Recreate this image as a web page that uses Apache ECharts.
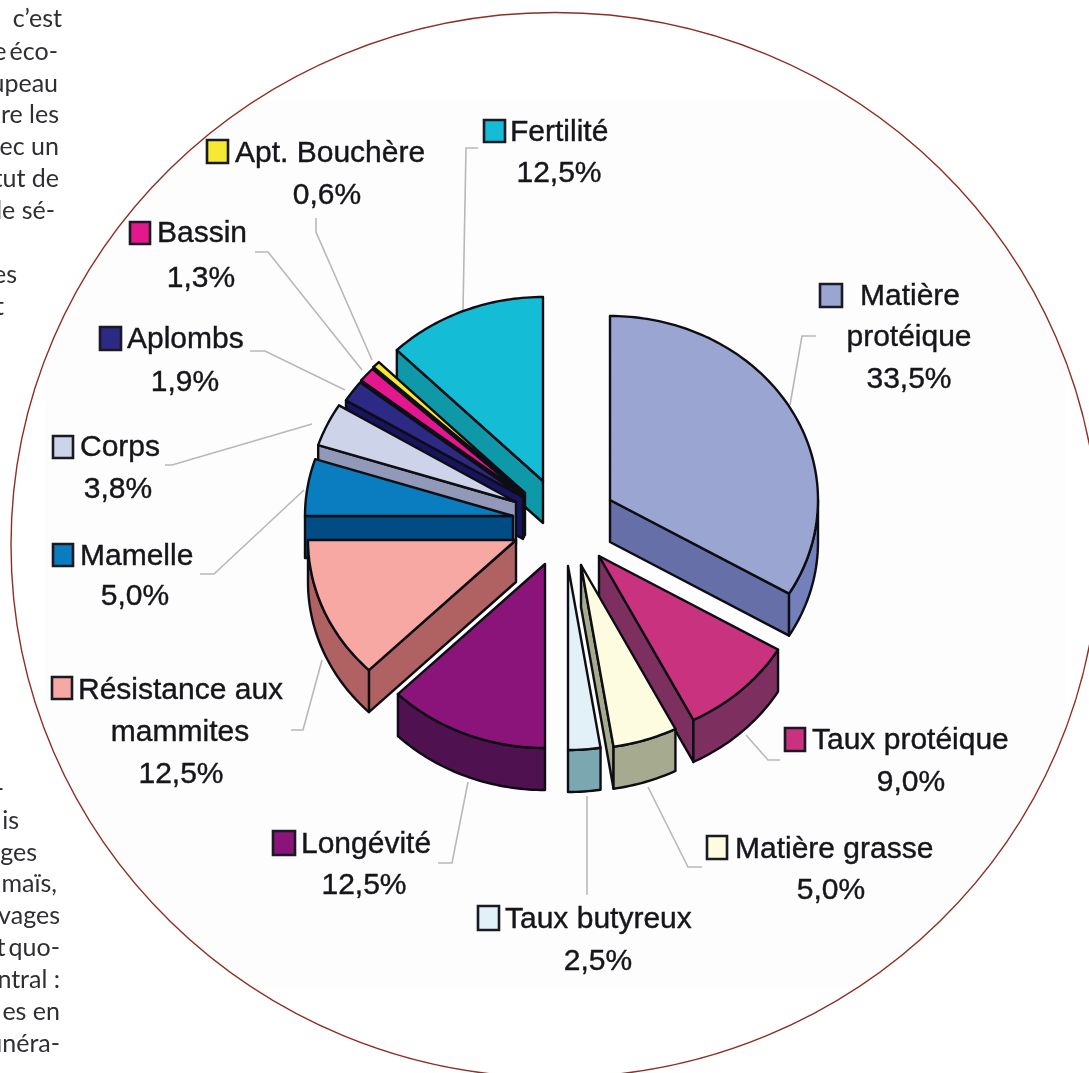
<!DOCTYPE html>
<html>
<head>
<meta charset="utf-8">
<style>
  html, body { margin: 0; padding: 0; background: #fff; }
  #main { width: 1089px; height: 1073px; }
</style>
<script src="https://cdn.jsdelivr.net/npm/echarts@6/dist/echarts.min.js"></script>
</head>
<body>
<div id="main"></div>
<script>
// data, clockwise from 12 o'clock
const categories = ['Matière\nprotéique', 'Taux protéique', 'Matière grasse', 'Taux butyreux', 'Longévité',
  'Résistance aux\nmammites', 'Mamelle', 'Corps', 'Aplombs', 'Bassin', 'Apt. Bouchère', 'Fertilité'];
const shares = [33.5, 9.0, 5.0, 2.5, 12.5, 12.5, 5.0, 3.8, 1.9, 1.3, 0.6, 12.5];

// colours
const topColors = ['#9aa5d2', '#c9327f', '#fdfce0', '#e2f0f8', '#8a1479', '#f7a8a3', '#0a7cc0', '#cdd3e8', '#2c2a85', '#e5178f', '#f7e931', '#14bcd6'];
const sideColors = ['#666fa8', '#7d3060', '#a6ab8f', '#7ba7b0', '#4f1150', '#b06262', '#004c85', '#9299b8', '#181560', '#7f2f73', '#86803c', '#0e98a8'];
const arcColors = ['#7480bb', '#7d3060', '#a6ab8f', '#7ba7b0', '#4f1150', '#b06262', '#004c85', '#9299b8', '#181560', '#7f2f73', '#86803c', '#0e98a8'];

// layout: each slice is pulled out by hand in the original
const sliceApex = [[610, 500], [599, 556], [581, 565], [568, 566], [545, 564], [516, 540], [513, 516], [516, 502], [523, 497], [524, 495], [525, 493], [543, 481]];
const drawOrder = [11, 10, 9, 8, 7, 6, 5, 4, 0, 1, 2, 3];
const rx = 208, ry = 184, depth = 42;

const swatches = [[820, 284, 22, 23], [785, 728, 20, 23], [707, 836, 20, 23], [478, 906, 21, 24], [273, 831, 22, 24], [52, 677, 20, 22],
  [53, 544, 20, 22], [53, 436, 20, 22], [100, 327, 21, 23], [130, 222, 20, 22], [207, 140, 21, 23], [484, 120, 21, 22]];
const labelLines = [
  [[860, 297, 'left'], [909, 338, 'center'], [909, 380, 'center']],
  [[812, 741, 'left'], [911, 783, 'center']],
  [[735, 850, 'left'], [831, 891, 'center']],
  [[505, 920, 'left'], [598, 962, 'center']],
  [[301, 845, 'left'], [364, 886, 'center']],
  [[78, 691, 'left'], [180, 733, 'center'], [181, 775, 'center']],
  [[80, 557, 'left'], [135, 597, 'center']],
  [[80, 448, 'left'], [118, 490, 'center']],
  [[127, 340, 'left'], [185, 383, 'center']],
  [[157, 234, 'left'], [201, 279, 'center']],
  [[235, 154, 'left'], [327, 196, 'center']],
  [[510, 133, 'left'], [559, 174, 'center']]
];
const leaders = [
  [[790, 405], [802, 336], [816, 336]],
  [[746, 735], [768, 760], [780, 760]],
  [[648, 787], [688, 867], [702, 867]],
  [[587, 796], [587, 895]],
  [[468, 782], [452, 863], [438, 863]],
  [[322, 660], [303, 730], [291, 730]],
  [[304, 490], [214, 574], [200, 574]],
  [[312, 424], [172, 465], [165, 465]],
  [[345, 390], [265, 351], [250, 351]],
  [[362, 370], [268, 252], [255, 252]],
  [[372, 360], [316, 232], [316, 218]],
  [[463, 310], [466, 148], [478, 148]]
];

// bits of the article column left of the circle
const columnText = ['c’est', 'e\u2009éco-', 'upeau', 're les', 'ec un', 'tut de', 'le sé-', 'es', 't',
  '-', 'is', 'ges', 'maïs,', 'vages', 't\u2009quo-', 'ntral :', 'es en', 'unéra-'];
const columnRight = [62, 58, 58, 59, 59, 59, 55, 17, 4, 4, 19, 37, 57, 60, 60, 60, 60, 60];
const columnY = [19, 52, 84, 115, 147, 179, 211, 275, 307, 789, 821, 853, 884, 916, 948, 980, 1012, 1044];

const ring = { cx: 555, cy: 545, rx: 544, ry: 532.5 };
const panel = { x0: 45, y0: 100, x1: 1065, y1: 988 };

// shares are percentages; they add up to 100,1 because of rounding
const toAngle = v => v / 100 * Math.PI * 2;
const startAngles = [];
shares.reduce((sum, v, i) => { startAngles[i] = toAngle(sum); return sum + v; }, 0);

function rim(apex, a, dy) {
  return [apex[0] + rx * Math.sin(a), apex[1] - ry * Math.cos(a) + (dy || 0)];
}
function arcPoints(apex, a0, a1, dy) {
  const n = Math.max(2, Math.ceil((a1 - a0) / 0.02));
  const pts = [];
  for (let k = 0; k <= n; k++) pts.push(rim(apex, a0 + (a1 - a0) * k / n, dy));
  return pts;
}
const edge = { stroke: '#0d0d14', lineWidth: 2.4, lineJoin: 'round' };

function renderSlice(params, api) {
  const i = api.value(0);
  const a0 = startAngles[i];
  const a1 = Math.min(a0 + toAngle(api.value(1)), Math.PI * 2);
  const apex = sliceApex[i];
  const low = [apex[0], apex[1] + depth];
  const kids = [];
  const face = (a) => ({
    type: 'polygon',
    shape: { points: [apex, rim(apex, a), rim(apex, a, depth), low] },
    style: Object.assign({ fill: sideColors[i] }, edge)
  });
  // only the sides turned towards the viewer
  if (Math.sin(a0) < -1e-6) kids.push(face(a0));
  if (Math.sin(a1) > 1e-6) kids.push(face(a1));
  const v0 = Math.max(a0, Math.PI / 2), v1 = Math.min(a1, Math.PI * 1.5);
  if (v1 > v0) {
    const top = arcPoints(apex, v0, v1, 0);
    const bottom = arcPoints(apex, v0, v1, depth).reverse();
    kids.push({ type: 'polygon', shape: { points: top.concat(bottom) }, style: Object.assign({ fill: arcColors[i] }, edge) });
  }
  kids.push({
    type: 'polygon',
    shape: { points: [apex].concat(arcPoints(apex, a0, a1, 0)) },
    style: Object.assign({ fill: topColors[i] }, edge)
  });
  return { type: 'group', children: kids };
}

function renderLabel(params, api) {
  const i = api.value(0);
  const s = swatches[i];
  const pct = api.value(1).toFixed(1).replace('.', ',') + '%';
  const lines = categories[i].split('\n').concat(pct);
  const kids = [
    { type: 'polyline', shape: { points: leaders[i] }, style: { stroke: '#b8b8b8', lineWidth: 1.6, fill: null } },
    { type: 'rect', shape: { x: s[0], y: s[1], width: s[2], height: s[3] }, style: { fill: topColors[i], stroke: '#1a1a22', lineWidth: 2.6 } }
  ];
  lines.forEach((txt, k) => {
    const p = labelLines[i][k];
    kids.push({
      type: 'text',
      style: { text: txt, x: p[0], y: p[1], textAlign: p[2], verticalAlign: 'middle', fill: '#15151a', stroke: '#15151a', lineWidth: 0.4, font: '30px "Liberation Sans", Arial, sans-serif' }
    });
  });
  return { type: 'group', children: kids };
}

// pale scan background: rectangle cut by the circle
function panelPoints() {
  const pts = [];
  for (let k = 0; k < 720; k++) {
    const t = k / 720 * Math.PI * 2;
    const dx = Math.cos(t), dy = Math.sin(t);
    let d = 1 / Math.sqrt(dx * dx / (ring.rx * ring.rx) + dy * dy / (ring.ry * ring.ry));
    if (dx > 0) d = Math.min(d, (panel.x1 - ring.cx) / dx);
    if (dx < 0) d = Math.min(d, (panel.x0 - ring.cx) / dx);
    if (dy > 0) d = Math.min(d, (panel.y1 - ring.cy) / dy);
    if (dy < 0) d = Math.min(d, (panel.y0 - ring.cy) / dy);
    pts.push([ring.cx + dx * d, ring.cy + dy * d]);
  }
  return pts;
}

const myChart = echarts.init(document.getElementById('main'));
myChart.setOption({
  animation: false,
  backgroundColor: '#fff',
  graphic: [
    { type: 'polygon', silent: true, shape: { points: panelPoints() }, style: { fill: '#fdfdfd' } },
    { type: 'ellipse', silent: true, shape: { cx: ring.cx, cy: ring.cy, rx: ring.rx, ry: ring.ry }, style: { fill: null, stroke: '#8c2f24', lineWidth: 1.4 } }
  ].concat(columnText.map((txt, i) => ({
    type: 'text', silent: true,
    style: { text: txt, x: columnRight[i], y: columnY[i], textAlign: 'right', verticalAlign: 'middle', fill: '#2f2f33', font: '25px Lato, "Open Sans", sans-serif' }
  }))),
  series: [
    {
      type: 'custom', coordinateSystem: 'none', silent: true, z: 2,
      data: shares.map((v, i) => [i, v]),
      renderItem: renderLabel
    },
    {
      type: 'custom', coordinateSystem: 'none', silent: true, z: 3,
      data: drawOrder.map(i => [i, shares[i]]),
      renderItem: renderSlice
    }
  ]
});
</script>
</body>
</html>
